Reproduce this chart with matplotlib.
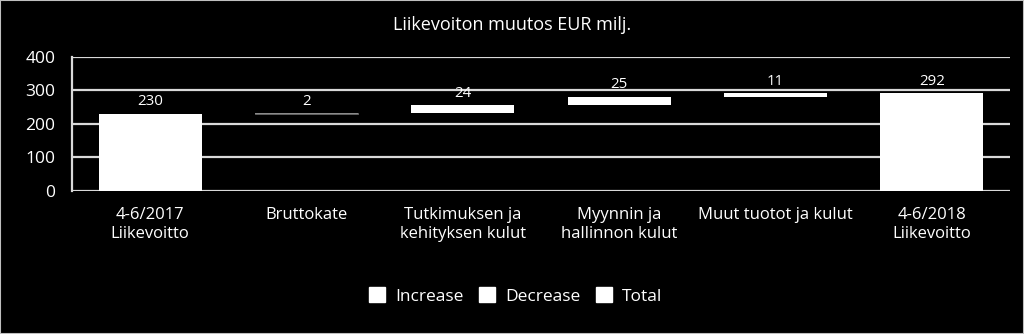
import matplotlib
matplotlib.use("Agg")
import matplotlib.pyplot as plt
from matplotlib.patches import Patch, Rectangle
import numpy as np

plt.rcParams['font.family'] = ['Open Sans', 'DejaVu Sans']

categories = ["4-6/2017\nLiikevoitto", "Bruttokate", "Tutkimuksen ja\nkehityksen kulut",
              "Myynnin ja\nhallinnon kulut", "Muut tuotot ja kulut", "4-6/2018\nLiikevoitto"]
start_total = 230
changes = [2, 24, 25, 11]
end_total = 292
labels = ["230", "2", "24", "25", "11", "292"]
yticks = [0, 100, 200, 300, 400]

# Build waterfall geometry from data
heights = [start_total] + changes + [end_total]
bottoms = [0]
running = start_total
for c in changes:
    bottoms.append(running)
    running += c
bottoms.append(0)

fig = plt.figure(figsize=(10.24, 3.34), dpi=100, facecolor='black')
ax = fig.add_axes([72/1024, 1-190.7/334, (1010-72)/1024, (190.7-56.7)/334])
ax.set_facecolor('black')

grid_c = '#d9d9d9'
x = np.arange(len(categories))
for yt in yticks:
    ax.axhline(yt, color=grid_c, lw=1.6, zorder=1)

colors = ['white', '#8a8a8a', 'white', 'white', 'white', 'white']
bars = ax.bar(x, heights, bottom=bottoms, width=0.66, color=colors, zorder=3, linewidth=0)
ax.bar(x[1], heights[1], bottom=bottoms[1], width=0.66, color='none',
       edgecolor='#8a8a8a', linewidth=0.5, zorder=3)

for xi, h, b, lab in zip(x, heights, bottoms, labels):
    ax.annotate(lab, (xi, b + h), xytext=(0, 3), textcoords='offset points',
                ha='center', va='bottom', color='white', fontsize=10.8, zorder=4)

ax.set_xlim(-0.5, len(categories) - 0.5)
ax.set_ylim(0, 400)
ax.set_yticks(yticks)
ax.set_xticks(x)
ax.set_xticklabels(categories, color='white', fontsize=12, linespacing=1.25)
ax.tick_params(axis='x', length=0, pad=12)
ax.tick_params(axis='y', length=0, pad=12, labelcolor='white', labelsize=12.5)
for s in ['top', 'right', 'bottom']:
    ax.spines[s].set_visible(False)
ax.spines['left'].set_color(grid_c)
ax.spines['left'].set_linewidth(1.6)

fig.text(512/1024, 1-25/334, "Liikevoiton muutos EUR milj.", color='white',
         fontsize=13, ha='center', va='center')

handles = [Patch(facecolor='white', edgecolor='white', label=l) for l in ["Increase", "Decrease", "Total"]]
leg = fig.legend(handles=handles, loc='center', bbox_to_anchor=(516/1024, 1-296/334), ncol=3,
                 frameon=False, fontsize=12.5, handlelength=0.9, handleheight=0.9,
                 handletextpad=0.6, columnspacing=0.9, labelcolor='white')

fig.patches.append(Rectangle((0, 0), 1, 1, transform=fig.transFigure, fill=False,
                             edgecolor='#bfbfbf', linewidth=1.5))

fig.savefig('out.png', dpi=100, facecolor='black')
